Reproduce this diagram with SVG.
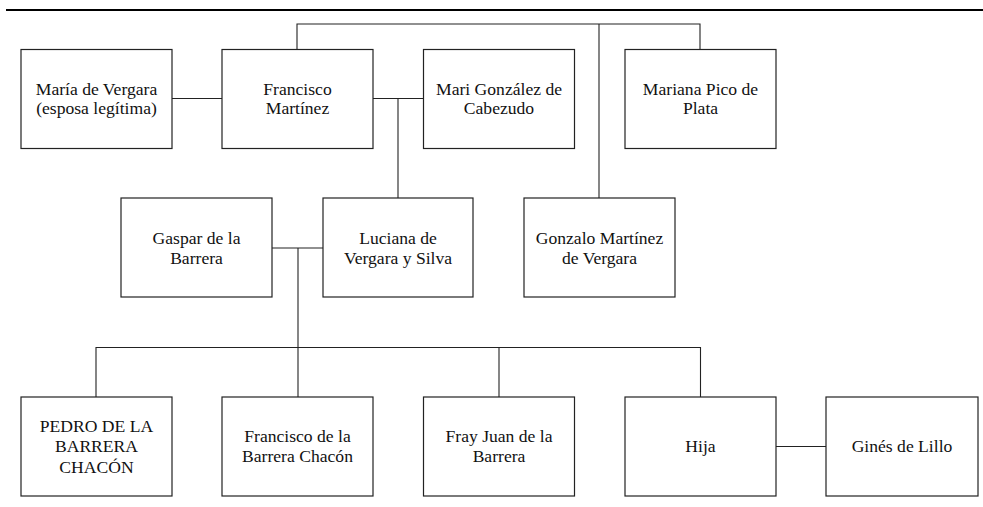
<svg xmlns="http://www.w3.org/2000/svg" width="983" height="507" viewBox="0 0 983 507">
<style>
.box{fill:#fff;stroke:#222;stroke-width:1.2}
.ln{fill:none;stroke:#222;stroke-width:1.1}
text{font-family:"Liberation Serif","Times New Roman",serif;font-size:17.6px;fill:#111;text-anchor:middle}
</style>
<rect width="983" height="507" fill="#fff"/>
<line x1="6" y1="10" x2="983" y2="10" stroke="#000" stroke-width="2"/>
<g id="connectors">
<polyline class="ln" points="297,50 297,24 700,24 700,50"/>
<line class="ln" x1="599" y1="24" x2="599" y2="198"/>
<line class="ln" x1="172" y1="98.5" x2="222" y2="98.5"/>
<line class="ln" x1="373" y1="98.5" x2="423" y2="98.5"/>
<line class="ln" x1="398" y1="98.5" x2="398" y2="198"/>
<line class="ln" x1="272" y1="248" x2="323" y2="248"/>
<line class="ln" x1="298" y1="248" x2="298" y2="397"/>
<polyline class="ln" points="96,397 96,347.5 700.5,347.5 700.5,397"/>
<line class="ln" x1="499" y1="347.5" x2="499" y2="397"/>
<line class="ln" x1="776" y1="446.5" x2="826" y2="446.5"/>
</g>
<g id="maria"><rect class="box" x="21" y="49.5" width="151" height="99"/><text x="96.5" y="94.5">María de Vergara</text><text x="96.5" y="114">(esposa legítima)</text></g>
<g id="francisco"><rect class="box" x="222" y="49.5" width="151" height="99"/><text x="297.5" y="94.5">Francisco</text><text x="297.5" y="114">Martínez</text></g>
<g id="mari"><rect class="box" x="423.5" y="49.5" width="151" height="99"/><text x="499" y="94.5">Mari González de</text><text x="499" y="114">Cabezudo</text></g>
<g id="mariana"><rect class="box" x="625" y="49.5" width="151" height="99"/><text x="700.5" y="94.5">Mariana Pico de</text><text x="700.5" y="114">Plata</text></g>
<g id="gaspar"><rect class="box" x="121" y="198" width="151" height="99"/><text x="196.5" y="243.5">Gaspar de la</text><text x="196.5" y="263.5">Barrera</text></g>
<g id="luciana"><rect class="box" x="323" y="198" width="150" height="99"/><text x="398" y="243.5">Luciana de</text><text x="398" y="263.5">Vergara y Silva</text></g>
<g id="gonzalo"><rect class="box" x="524" y="198" width="151" height="99"/><text x="599.5" y="243.5">Gonzalo Martínez</text><text x="599.5" y="263.5">de Vergara</text></g>
<g id="pedro"><rect class="box" x="21" y="397" width="151" height="99"/><text x="96.5" y="432">PEDRO DE LA</text><text x="96.5" y="452">BARRERA</text><text x="96.5" y="472.5">CHACÓN</text></g>
<g id="francisco2"><rect class="box" x="222" y="397" width="151" height="99"/><text x="297.5" y="442">Francisco de la</text><text x="297.5" y="462">Barrera Chacón</text></g>
<g id="fray"><rect class="box" x="423.5" y="397" width="151" height="99"/><text x="499" y="442">Fray Juan de la</text><text x="499" y="462">Barrera</text></g>
<g id="hija"><rect class="box" x="625" y="397" width="151" height="99"/><text x="700.5" y="452">Hija</text></g>
<g id="gines"><rect class="box" x="826" y="397" width="152" height="99"/><text x="902" y="452">Ginés de Lillo</text></g>
</svg>
